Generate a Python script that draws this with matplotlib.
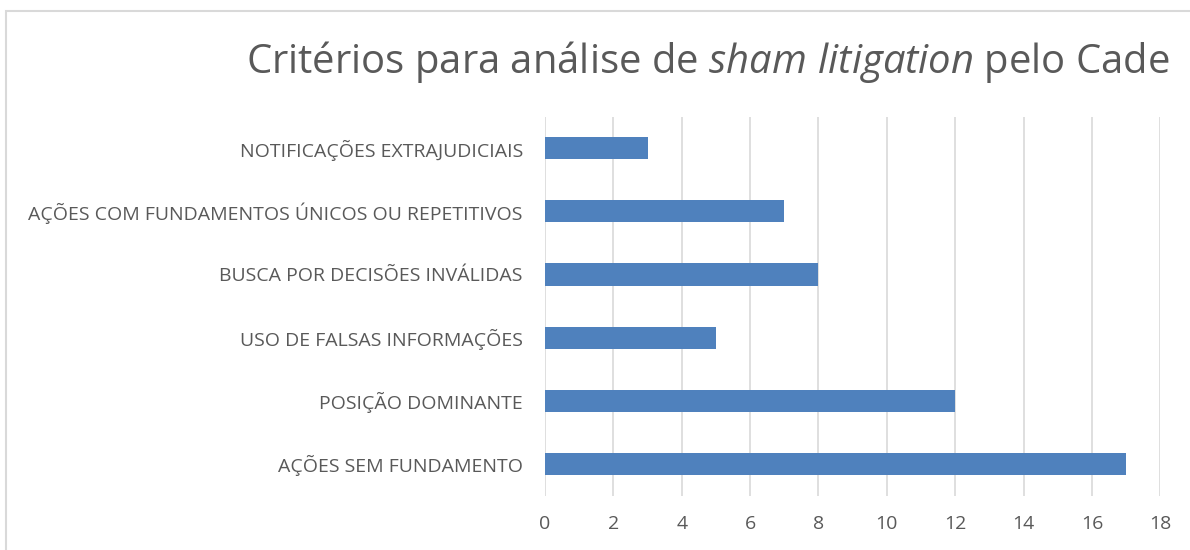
import matplotlib.pyplot as plt
from matplotlib.patches import Rectangle

# Data (top to bottom as shown in the chart)
categories = [
    "NOTIFICAÇÕES EXTRAJUDICIAIS",
    "AÇÕES COM FUNDAMENTOS ÚNICOS OU REPETITIVOS",
    "BUSCA POR DECISÕES INVÁLIDAS",
    "USO DE FALSAS INFORMAÇÕES",
    "POSIÇÃO DOMINANTE",
    "AÇÕES SEM FUNDAMENTO",
]
values = [3, 7, 8, 5, 12, 17]
x_ticks = [0, 2, 4, 6, 8, 10, 12, 14, 16, 18]

plt.rcParams['font.family'] = ['Open Sans', 'DejaVu Sans']
plt.rcParams['mathtext.fontset'] = 'custom'
plt.rcParams['mathtext.rm'] = 'Open Sans'
plt.rcParams['mathtext.it'] = 'Open Sans:italic'

text_color = '#595959'
bar_color = '#4F81BD'
grid_color = '#d9d9d9'

fig = plt.figure(figsize=(11.9, 5.5), dpi=100)
ax = fig.add_axes([0.458, 0.099, 0.517, 0.689])

# chart border
fig.patches.append(Rectangle((6 / 1190, -0.2), 1.2, 1.2 - 11 / 550,
                             transform=fig.transFigure, fill=False,
                             edgecolor=grid_color, linewidth=1.5))

pos = list(range(len(categories)))[::-1]
ax.barh(pos, values, height=0.35, color=bar_color, zorder=3)

ax.set_xlim(0, 18)
ax.set_ylim(-0.5, len(categories) - 0.5)
ax.set_xticks(x_ticks)
ax.set_yticks(pos)
ax.set_yticklabels(categories)
ax.grid(axis='x', color=grid_color, linewidth=1.2, zorder=0)
ax.tick_params(axis='both', length=0, colors=text_color, labelsize=14)
ax.tick_params(axis='y', pad=16)
ax.tick_params(axis='x', pad=14)
for s in ax.spines.values():
    s.set_visible(False)

fig.text(0.5945, 0.887,
         r"Critérios para análise de $\mathit{sham\ litigation}$ pelo Cade",
         ha='center', va='center', fontsize=28.8, color=text_color)

fig.savefig('out.png', dpi=100)
